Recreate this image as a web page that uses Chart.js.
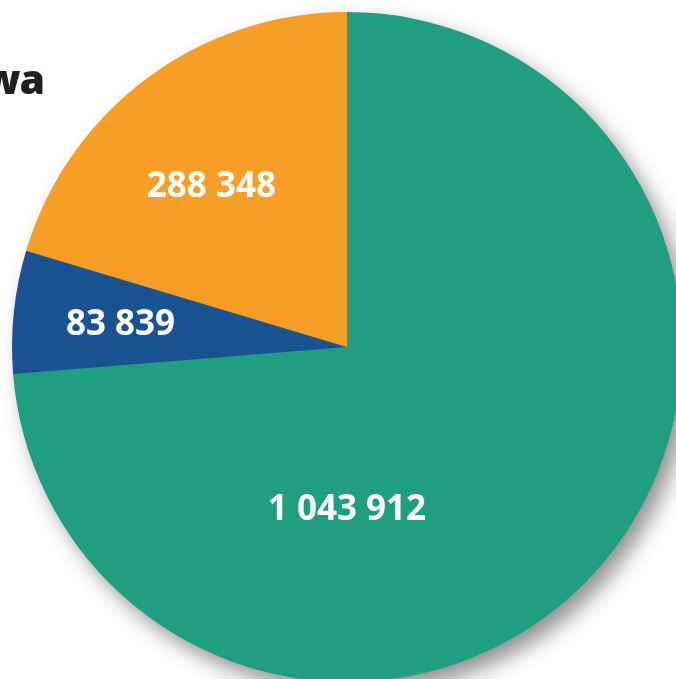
<!DOCTYPE html>
<html>
<head>
<meta charset="utf-8">
<script src="https://cdn.jsdelivr.net/npm/chart.js@4/dist/chart.umd.min.js"></script>
<style>
  html, body { margin: 0; padding: 0; background: #fff; overflow: hidden; width: 676px; height: 679px; }
  #wrap { position: relative; width: 676px; height: 679px; overflow: hidden; }
  #pie { position: absolute; left: 0; top: 0; }
  #title {
    position: absolute; right: 632px; top: 50px;
    font-family: 'Open Sans', sans-serif; font-weight: 800; font-size: 41px;
    color: #231f20; white-space: nowrap; letter-spacing: -1px;
  }
</style>
</head>
<body>
<div id="wrap">
  <canvas id="pie" width="694" height="694"></canvas>
  <div id="title">wa</div>
</div>
<script>
// data
const categories = ['A', 'B', 'C']
const values = [1043912, 83839, 288348]
const colors = ['#1f9e82', '#1a5392', '#f69e25']

// label placement: radius factor and optional fixed angle (canvas degrees)
const labelRadius = [0.48, 0.68, 0.63]
const labelAngle = [90, null, 230]

const fmt = v => String(v).replace(/\B(?=(\d{3})+(?!\d))/g, ' ')

// soft shadow under the whole pie
const shadowPlugin = {
    id: 'pieShadow',
    beforeDatasetsDraw(chart) {
        const arc = chart.getDatasetMeta(0).data[0]
        if (!arc) return
        const { x, y, outerRadius } = arc.getProps(['x', 'y', 'outerRadius'], true)
        const ctx = chart.ctx
        ctx.save()
        ctx.shadowColor = 'rgba(0,0,0,0.45)'
        ctx.shadowBlur = 22
        ctx.shadowOffsetX = 9
        ctx.shadowOffsetY = 11
        ctx.fillStyle = colors[0]
        ctx.beginPath()
        ctx.arc(x, y, outerRadius - 1, 0, Math.PI * 2)
        ctx.fill()
        ctx.restore()
    }
}

const labelPlugin = {
    id: 'sliceLabels',
    afterDatasetsDraw(chart) {
        const ctx = chart.ctx
        const meta = chart.getDatasetMeta(0)
        ctx.save()
        ctx.font = "700 35px 'Open Sans', sans-serif"
        ctx.fillStyle = '#ffffff'
        ctx.textAlign = 'center'
        ctx.textBaseline = 'middle'
        meta.data.forEach((arc, i) => {
            const p = arc.getProps(['x', 'y', 'startAngle', 'endAngle', 'outerRadius'], true)
            const a = labelAngle[i] !== null ? labelAngle[i] * Math.PI / 180 : (p.startAngle + p.endAngle) / 2
            const r = p.outerRadius * labelRadius[i]
            ctx.fillText(fmt(values[i]), p.x + Math.cos(a) * r, p.y + Math.sin(a) * r + 2)
        })
        ctx.restore()
    }
}

new Chart(document.getElementById('pie'), {
    type: 'pie',
    data: {
        labels: categories,
        datasets: [{
            data: values,
            backgroundColor: colors,
            borderWidth: 0
        }]
    },
    options: {
        responsive: false,
        devicePixelRatio: 1,
        animation: false,
        layout: { padding: 12 },
        plugins: {
            legend: { display: false },
            tooltip: { enabled: false }
        }
    },
    plugins: [shadowPlugin, labelPlugin]
})
</script>
</body>
</html>
